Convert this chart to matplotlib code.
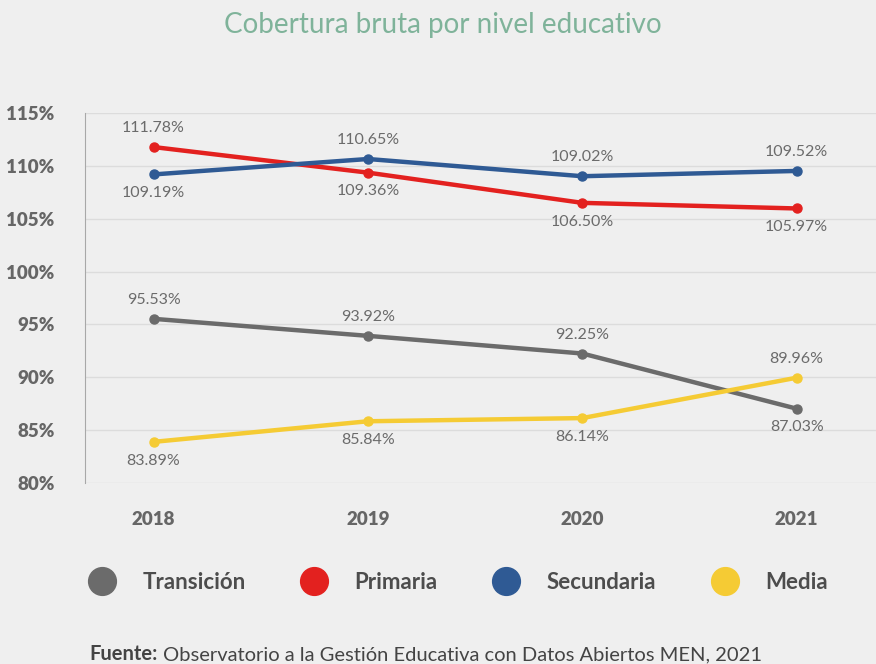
import matplotlib.pyplot as plt
from matplotlib.lines import Line2D

# datos
years = [2018, 2019, 2020, 2021]
transicion = [95.53, 93.92, 92.25, 87.03]
primaria = [111.78, 109.36, 106.50, 105.97]
secundaria = [109.19, 110.65, 109.02, 109.52]
media = [83.89, 85.84, 86.14, 89.96]

# posicion de etiquetas: 1 arriba, -1 abajo
pos_transicion = [1, 1, 1, -1]
pos_primaria = [1, -1, -1, -1]
pos_secundaria = [-1, 1, 1, 1]
pos_media = [-1, -1, -1, 1]

series = [
    ("Transición", transicion, pos_transicion, "#6b6b6b"),
    ("Primaria", primaria, pos_primaria, "#e3211f"),
    ("Secundaria", secundaria, pos_secundaria, "#2f5a94"),
    ("Media", media, pos_media, "#f5cb34"),
]

bg = "#efefef"
plt.rcParams['font.family'] = ['Lato', 'DejaVu Sans']

fig = plt.figure(figsize=(8.76, 6.64), dpi=100, facecolor=bg)
ax = fig.add_axes([0.097, 0.2726, 0.903, 0.5572], facecolor=bg)

for name, vals, pos, col in series:
    ax.plot(years, vals, color=col, lw=3.2, marker='o', ms=6.5, solid_capstyle='round', zorder=3)
    for x, v, p in zip(years, vals, pos):
        ax.annotate(f"{v:.2f}%", (x, v), xytext=(0, 13.5 * p), textcoords='offset points',
                    ha='center', va='center', fontsize=11.5, color='#6b6b6b')

ax.set_xlim(2017.68, 2021.37)
ax.set_ylim(80, 115)
ax.set_yticks(range(80, 116, 5))
ax.set_yticklabels([f"{t}%" for t in range(80, 116, 5)])
ax.set_xticks(years)
ax.grid(axis='y', color='#dcdcdc', lw=1)
ax.set_axisbelow(True)
for s in ['top', 'right', 'bottom']:
    ax.spines[s].set_visible(False)
ax.spines['left'].set_color('#a8a8a8')
ax.tick_params(axis='y', length=0, pad=22, labelsize=13.5, labelcolor='#666666')
ax.tick_params(axis='x', length=0, pad=20, labelsize=13.5, labelcolor='#666666')
for lab in ax.get_xticklabels() + ax.get_yticklabels():
    lab.set_fontweight('heavy')

fig.text(0.506, 0.962, "Cobertura bruta por nivel educativo", ha='center', va='center',
         fontsize=20, color='#7fb39a')

handles = [Line2D([], [], ls='none', marker='o', ms=20, color=c) for _, _, _, c in series]
fig.legend(handles, [s[0] for s in series], loc='center', bbox_to_anchor=(0.518, 0.123), ncol=4,
           frameon=False, handletextpad=0.8, columnspacing=2.1,
           prop={'size': 16, 'weight': 'bold'}, labelcolor='#4d4d4d')

# fuente
y_fuente = 0.006
t = fig.text(0.102, y_fuente, "Fuente:", fontsize=14.5, color='#444444', va='baseline', fontweight='bold')
ax.annotate("Observatorio a la Gestión Educativa con Datos Abiertos MEN, 2021",
            xy=(1, y_fuente), xycoords=(t, 'figure fraction'), xytext=(4, 0), textcoords='offset points',
            fontsize=14.5, color='#444444', va='baseline', ha='left', annotation_clip=False)

fig.savefig("out.png", dpi=100, facecolor=bg)
